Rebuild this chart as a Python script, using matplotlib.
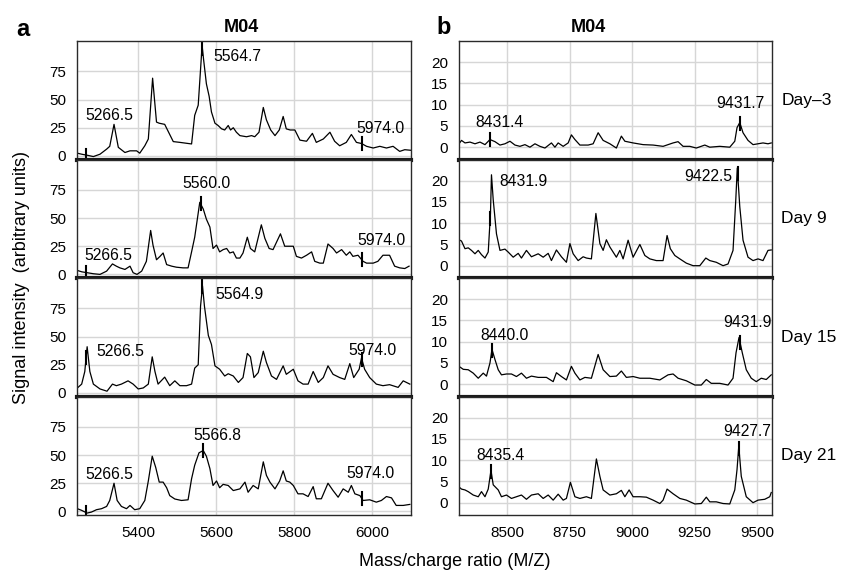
# -*- coding: utf-8 -*-
"""
MALDI spectra M04, panel a (5200-6100) and panel b (8300-9560)
"""

import matplotlib
matplotlib.use("Agg")
import matplotlib.pyplot as plt
import numpy as np

plt.rcParams['font.family'] = ['Liberation Sans', 'DejaVu Sans']

###############################################
# DATA
###############################################
# ---- panel a, low mass range
a1_mz = [5244, 5255, 5269, 5285, 5302, 5319, 5327, 5338, 5349, 5366, 5379, 5396, 5404, 5417, 5426, 5437,
         5447, 5454, 5468, 5490, 5507, 5537, 5545, 5554, 5564, 5568, 5575, 5582, 5588, 5597, 5605, 5614,
         5622, 5631, 5637, 5644, 5652, 5661, 5678, 5691, 5699, 5710, 5721, 5729, 5740, 5751, 5762, 5772,
         5780, 5790, 5802, 5815, 5832, 5847, 5857, 5875, 5892, 5904, 5917, 5934, 5947, 5960, 5973, 5986,
         6003, 6020, 6037, 6054, 6071, 6084, 6099]
a1_int = [2.4, 1.5, 0.6, -0.6, 1.5, 6, 8.5, 28, 7.6, 3, 4.5, 4.5, 2.4, 9, 15, 69,
          30, 29, 28, 12.7, 12, 10.6, 36, 45, 98, 85, 64, 53, 39, 29, 27, 24,
          23, 27, 23, 25, 21, 18, 17, 18, 17, 21, 43, 32, 23, 18, 23, 35,
          24, 23, 23, 14, 13, 20, 12, 15, 21, 13, 9, 12, 19, 12, 11, 8.5,
          7, 8.5, 7, 8.5, 4, 5.5, 5]

a2_mz = [5244, 5255, 5269, 5285, 5302, 5319, 5334, 5344, 5353, 5366, 5379, 5387, 5397, 5409, 5421, 5432,
         5438, 5447, 5456, 5464, 5473, 5486, 5498, 5515, 5528, 5537, 5545, 5558, 5567, 5575, 5584, 5592,
         5601, 5609, 5618, 5627, 5635, 5644, 5652, 5661, 5669, 5680, 5688, 5699, 5716, 5725, 5736, 5746,
         5765, 5776, 5785, 5798, 5806, 5819, 5832, 5845, 5853, 5866, 5875, 5887, 5900, 5909, 5922, 5934,
         5943, 5951, 5964, 5977, 5986, 6003, 6015, 6028, 6045, 6058, 6071, 6084, 6095]
a2_int = [3.5, 2.3, 1.5, 0.6, 0, 2.9, 9.3, 7.3, 5.8, 4.4, 7.3, 1.5, 0, 2.9, 11.6, 39,
          26, 13, 16, 19, 8.7, 7.3, 6.4, 5.8, 5.8, 20, 33, 64, 58, 49, 42, 23,
          26, 20, 22, 23, 19, 20, 14.5, 14.5, 19, 33, 23, 20, 44, 32, 23, 22,
          36, 25, 25, 25, 16, 14.5, 17, 20, 11.6, 10, 10, 27, 23, 19, 22, 17,
          20, 16, 17, 11.6, 10, 10, 11.6, 17, 17, 7.3, 5.8, 5.2, 7.3]

a3_mz = [5244, 5255, 5263, 5269, 5276, 5285, 5302, 5320, 5334, 5344, 5357, 5374, 5387, 5400, 5413, 5426,
         5436, 5443, 5451, 5468, 5481, 5494, 5507, 5524, 5537, 5545, 5554, 5560, 5565, 5570, 5580, 5588,
         5597, 5609, 5622, 5631, 5644, 5657, 5669, 5680, 5688, 5697, 5708, 5721, 5729, 5742, 5755, 5772,
         5780, 5798, 5810, 5823, 5836, 5849, 5862, 5875, 5887, 5900, 5917, 5930, 5943, 5953, 5967, 5973,
         5981, 5994, 6011, 6028, 6045, 6067, 6080, 6097]
a3_int = [4.4, 7.8, 19, 41, 19, 7.8, 3.5, 1.5, 7.8, 6.4, 7.8, 10.7, 7.8, 3.5, 4.4, 7.8,
          32, 19, 7.8, 14, 6.4, 10.7, 6.4, 6.4, 7.8, 22, 25, 77, 95, 77, 51, 43,
          24, 21, 15, 17, 15, 9.3, 13.6, 35, 32, 13.6, 18, 37, 27, 15, 12, 24,
          16.5, 21, 10.7, 7.8, 7.8, 19, 9.3, 13.6, 24, 16.5, 13.6, 12, 26, 13.6, 21, 31,
          21, 13.6, 7.8, 6.4, 7.3, 4.9, 10.7, 7.8]

a4_mz = [5244, 5255, 5269, 5280, 5293, 5306, 5319, 5327, 5338, 5346, 5357, 5370, 5379, 5391, 5404, 5417,
         5426, 5436, 5445, 5454, 5464, 5473, 5481, 5494, 5511, 5528, 5537, 5545, 5556, 5567, 5575, 5584,
         5592, 5601, 5609, 5618, 5631, 5644, 5661, 5674, 5682, 5695, 5708, 5721, 5729, 5738, 5751, 5763,
         5772, 5780, 5789, 5798, 5810, 5823, 5836, 5849, 5857, 5870, 5887, 5900, 5913, 5926, 5939, 5947,
         5956, 5969, 5977, 5994, 6011, 6024, 6037, 6050, 6062, 6080, 6097]
a4_int = [2.4, 0.9, -1.5, -0.6, 1.5, 2.4, 4.4, 9.7, 25, 9.7, 4.4, 2.4, 5.3, 1.5, 2.4, 9.7,
          27, 49, 39, 26, 26, 21, 14, 11, 9.7, 10.3, 29, 41, 52, 54, 49, 38,
          23, 27, 21, 24, 23, 18.5, 20, 26, 17, 23, 20, 44, 32, 26, 20, 27,
          36, 27, 26, 23, 15.6, 15.6, 13.2, 22, 11.2, 11.2, 25, 18.5, 12.6, 20, 17, 23,
          15.6, 14, 9.7, 10.3, 8.2, 9.7, 13.2, 12, 5.3, 5.3, 6.2]

# ---- panel b, high mass range
b1_mz = [8307, 8317, 8331, 8351, 8371, 8391, 8411, 8431, 8451, 8471, 8491, 8511, 8531, 8551, 8571, 8591,
         8611, 8631, 8651, 8677, 8691, 8704, 8724, 8744, 8757, 8771, 8791, 8824, 8844, 8864, 8884, 8911,
         8937, 8957, 8971, 9004, 9044, 9084, 9124, 9164, 9184, 9204, 9231, 9257, 9291, 9311, 9351, 9391,
         9411, 9420, 9431, 9444, 9464, 9484, 9504, 9524, 9544, 9557]
b1_int = [0.8, 1.6, 1.0, 1.2, 0.8, 1.2, 0.6, 1.8, 1.3, 0.5, 0.8, 1.4, 0.5, 0.2, 0.6, 0,
          0.8, 0.2, -0.2, 1.0, 0, 1.0, 0.2, 1.0, 2.9, 1.8, 0.5, 0.5, 0.8, 3.4, 1.6, 0.8,
          -0.2, 2.6, 1.4, 1.0, 0.6, 0.5, 0.2, 1.0, 1.3, 0.2, 0.2, -0.2, 0.5, 0, 0.2, 0,
          1.4, 4.6, 5.8, 3.4, 1.6, 0.6, 0.8, 1.0, 0.8, 1.0]

b2_mz = [8307, 8317, 8331, 8344, 8357, 8371, 8384, 8397, 8411, 8424, 8433, 8437, 8444, 8457, 8471, 8491,
         8504, 8524, 8544, 8557, 8577, 8597, 8624, 8644, 8664, 8677, 8697, 8717, 8737, 8751, 8764, 8784,
         8804, 8817, 8837, 8855, 8871, 8884, 8897, 8911, 8924, 8937, 8951, 8964, 8984, 9004, 9031, 9051,
         9071, 9097, 9124, 9140, 9153, 9171, 9191, 9217, 9244, 9271, 9295, 9311, 9337, 9364, 9384, 9404,
         9415, 9421, 9431, 9444, 9464, 9484, 9504, 9524, 9544, 9557]
b2_int = [6.1, 5.8, 4.0, 4.2, 3.6, 2.8, 3.6, 2.6, 1.8, 3.2, 12.3, 21.4, 15.5, 7.5, 3.6, 3.9,
          3.2, 2.0, 2.9, 1.8, 3.6, 2.1, 2.8, 2.0, 2.9, 1.2, 3.7, 2.1, 0.8, 5.2, 2.8, 1.2,
          2.1, 1.8, 1.6, 12.3, 5.2, 3.6, 6.1, 4.4, 3.2, 2.0, 3.6, 1.6, 6.0, 2.0, 5.0, 2.4,
          1.6, 1.2, 1.2, 7.1, 4.0, 2.4, 1.6, 0.6, 0, 0, 1.8, 1.2, 0.8, 0, 0.4, 3.6,
          15.5, 23.0, 13.9, 6.0, 2.0, 1.2, 1.6, 1.2, 3.6, 3.7]

b3_mz = [8307, 8324, 8344, 8364, 8384, 8404, 8417, 8431, 8439, 8451, 8464, 8477, 8497, 8517, 8537, 8557,
         8577, 8597, 8624, 8657, 8684, 8697, 8717, 8737, 8757, 8771, 8791, 8811, 8837, 8864, 8884, 8911,
         8937, 8957, 8977, 9004, 9031, 9071, 9111, 9144, 9164, 9184, 9217, 9251, 9277, 9297, 9317, 9351,
         9384, 9404, 9416, 9428, 9441, 9457, 9477, 9497, 9517, 9537, 9557]
b3_int = [4.2, 3.5, 3.4, 2.6, 1.4, 2.6, 1.9, 5.0, 8.2, 5.8, 3.4, 2.2, 2.4, 2.4, 1.8, 2.6,
          1.4, 1.9, 1.6, 1.6, 0.6, 2.7, 1.8, 1.0, 4.2, 2.6, 1.0, 1.6, 1.4, 7.0, 3.4, 1.8,
          1.9, 3.1, 1.6, 1.8, 1.4, 1.4, 1.0, 2.2, 2.4, 1.4, 0.8, -0.2, -0.2, 1.1, 0.2, 0.2,
          -0.2, 1.4, 7.4, 11.0, 7.4, 3.4, 1.4, 0.6, 1.4, 1.1, 2.2]

b4_mz = [8307, 8317, 8331, 8344, 8364, 8384, 8397, 8411, 8424, 8435, 8444, 8464, 8477, 8497, 8517, 8537,
         8557, 8577, 8597, 8624, 8644, 8664, 8684, 8704, 8724, 8737, 8753, 8771, 8791, 8817, 8837, 8857,
         8871, 8884, 8911, 8937, 8957, 8971, 8988, 9004, 9031, 9057, 9084, 9111, 9124, 9140, 9164, 9191,
         9217, 9251, 9277, 9297, 9311, 9337, 9364, 9391, 9411, 9420, 9427, 9437, 9457, 9484, 9504, 9531,
         9551, 9557]
b4_int = [3.7, 3.2, 3.0, 2.6, 1.8, 1.4, 2.6, 1.4, 3.2, 7.6, 4.2, 3.0, 1.4, 1.8, 1.0, 1.4,
          1.8, 0.8, 1.8, 2.1, 1.0, 1.8, 0.6, 2.0, 0.6, 1.0, 4.8, 1.4, 1.0, 1.4, 1.0, 10.3,
          6.2, 3.0, 1.8, 2.1, 2.9, 1.4, 3.0, 1.4, 1.4, 1.3, 0.6, -0.2, 0.6, 3.2, 2.1, 1.0,
          0.6, -0.3, -0.2, 1.3, 0.2, 0.2, -0.2, -0.3, 3.0, 7.8, 13.3, 6.2, 1.4, 0, 0.6, 0.8,
          1.4, 2.4]

# peak labels per panel (the tick mark sits at the labelled mass)
a_peaks = [["5266.5", "5564.7", "5974.0"],
           ["5266.5", "5560.0", "5974.0"],
           ["5266.5", "5564.9", "5974.0"],
           ["5266.5", "5566.8", "5974.0"]]
b_peaks = [["8431.4", "9431.7"],
           ["8431.9", "9422.5"],
           ["8440.0", "9431.9"],
           ["8435.4", "9427.7"]]
days = ["Day\u20133", "Day 9", "Day 15", "Day 21"]

a_xticks = [5400, 5600, 5800, 6000]
a_yticks = [0, 25, 50, 75]
b_xticks = [8500, 8750, 9000, 9250, 9500]
b_yticks = [0, 5, 10, 15, 20]

###############################################
# LAYOUT  (text positions in data units)
###############################################
a_label_pos = [[(5326, 36, 'center'), (5592, 88, 'left'), (6022, 24, 'center')],
               [(5323, 17, 'center'), (5575, 81, 'center'), (6024, 30, 'center')],
               [(5353, 37, 'center'), (5597, 87, 'left'), (6001, 38, 'center')],
               [(5327, 33, 'center'), (5603, 67, 'center'), (5996, 34, 'center')]]
b_label_pos = [[(8471, 5.8, 'center'), (9435, 10.3, 'center')],
               [(8468, 19.9, 'left'), (9401, 21, 'right')],
               [(8488, 11.5, 'center'), (9461, 14.5, 'center')],
               [(8475, 11.2, 'center'), (9460, 16.8, 'center')]]

a_spec = [(a1_mz, a1_int), (a2_mz, a2_int), (a3_mz, a3_int), (a4_mz, a4_int)]
b_spec = [(b1_mz, b1_int), (b2_mz, b2_int), (b3_mz, b3_int), (b4_mz, b4_int)]

W, H = 844, 572
fig = plt.figure(figsize=(W / 100, H / 100), dpi=100)

top_px = 41
panel_h = 118.5


def draw_panel(ax, mz, inten, peaks, lpos, xlim, ylim, xticks, yticks, last):
    ax.plot(mz, inten, color='black', lw=0.9)
    half = 0.055 * (ylim[1] - ylim[0])
    for lab, (tx, ty, ha) in zip(peaks, lpos):
        xm = float(lab)
        y0 = np.interp(xm, mz, inten)
        ax.plot([xm, xm], [y0 - half, y0 + half], color='black', lw=1.5)
        ax.text(tx, ty, lab, ha=ha, va='center', fontsize=11.3)
    ax.set_xlim(xlim)
    ax.set_ylim(ylim)
    ax.set_xticks(xticks)
    ax.set_yticks(yticks)
    ax.grid(True, color='#d6d6d6', lw=1.0)
    ax.set_axisbelow(True)
    ax.tick_params(length=0, labelsize=11, pad=8)
    for s in ax.spines.values():
        s.set_color('#2a2a2a')
        s.set_linewidth(1.0)
    if not last:
        ax.tick_params(labelbottom=False)
        ax.spines['bottom'].set_linewidth(3.0)
        ax.spines['bottom'].set_color('#1a1a1a')


for i in range(4):
    y_bot = 1 - (top_px + (i + 1) * panel_h) / H
    hh = panel_h / H
    axa = fig.add_axes([77 / W, y_bot, (411 - 77) / W, hh])
    draw_panel(axa, a_spec[i][0], a_spec[i][1], a_peaks[i], a_label_pos[i],
               (5243, 6100), (-3.2, 102), a_xticks, a_yticks, i == 3)
    axb = fig.add_axes([459 / W, y_bot, (772 - 459) / W, hh])
    draw_panel(axb, b_spec[i][0], b_spec[i][1], b_peaks[i], b_label_pos[i],
               (8307, 9560), (-2.9, 25), b_xticks, b_yticks, i == 3)
    axb.text(1.03, 0.5, days[i], transform=axb.transAxes, ha='left', va='center', fontsize=12.5)

# titles and panel letters
fig.text(23 / W, 1 - 29 / H, "a", fontsize=17, fontweight='bold', ha='center', va='center')
fig.text(444 / W, 1 - 28 / H, "b", fontsize=17, fontweight='bold', ha='center', va='center')
fig.text(241 / W, 1 - 27 / H, "M04", fontsize=13, fontweight='bold', ha='center', va='center')
fig.text(588 / W, 1 - 27 / H, "M04", fontsize=13, fontweight='bold', ha='center', va='center')

fig.text(22 / W, 1 - 277 / H, "Signal intensity  (arbitrary units)", rotation=90,
         fontsize=13, ha='center', va='center')
fig.text(455 / W, 1 - 561 / H, "Mass/charge ratio (M/Z)", fontsize=13, ha='center', va='center')

fig.savefig("out.png", dpi=100)
